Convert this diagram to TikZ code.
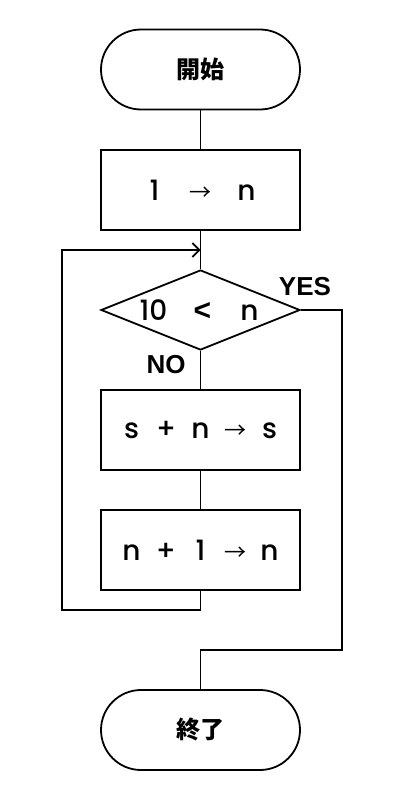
\documentclass[tikz,border=0pt]{standalone}
\usepackage{fontspec}
\setmainfont{Poppins Medium}
\newfontfamily\jp{Noto Sans CJK JP}
\newfontfamily\lab{Liberation Sans}
\usetikzlibrary{arrows.meta,shapes.geometric}
\tikzset{
  base/.style={draw=black, line width=1.8pt, minimum width=199pt, minimum height=80pt, inner sep=0pt, font=\fontsize{28}{30}\selectfont},
  term/.style={base, rounded corners=40pt},
  proc/.style={base},
  dec/.style={base, diamond, aspect=2.5, minimum width=199pt, minimum height=80pt},
  line/.style={line width=1.8pt},
  lbl/.style={font=\lab\bfseries\fontsize{26}{28}\selectfont, inner sep=0pt}
}
\newcommand{\arr}{{\jp\fontsize{22}{24}\selectfont →}}
\newcommand{\cell}[2]{\makebox[#1][c]{#2}}
\begin{document}
\begin{tikzpicture}[x=1pt,y=-1pt]
\useasboundingbox (0,0) rectangle (400,800);
\node[term] (start) at (200.5,69.5) {\jp\bfseries\fontsize{24}{26}\selectfont 開始};
\node[proc] (init) at (200.5,190) {\cell{46pt}{1}\cell{46pt}{\arr}\cell{46pt}{n}};
\node[dec] (cond) at (200.5,310) {};
\node[font=\fontsize{28}{30}\selectfont] at (cond.center) {\cell{50pt}{10}\cell{48pt}{{\lab\bfseries\fontsize{30}{32}\selectfont <}}\cell{46pt}{n}};
\node[proc] (add) at (200.5,430) {\cell{34.5pt}{s}\cell{34.5pt}{+}\cell{34.5pt}{n}\cell{34.5pt}{\arr}\cell{34.5pt}{s}};
\node[proc] (inc) at (200.5,550) {\cell{34.5pt}{n}\cell{34.5pt}{+}\cell{34.5pt}{1}\cell{34.5pt}{\arr}\cell{34.5pt}{n}};
\node[term] (stop) at (200.5,730) {\jp\bfseries\fontsize{24}{26}\selectfont 終了};
\coordinate (join) at (200.5,250);
\coordinate (lb) at (62,610);
\coordinate (rb) at (342,650);
\draw[line] (start) -- (init);
\draw[line] (init) -- (cond.north);
\draw[line] (cond.south) -- (add);
\draw[line] (add) -- (inc);
\draw[line] (inc.south) |- (lb) |- (join);
\draw[line, -{Straight Barb[length=7pt,width=14pt,line width=1.6pt]}] (lb |- join) -- (join);
\draw[line] (cond.east) -| (rb) -| (stop.north);
\node[lbl] at (305,286.5) {YES};
\node[lbl] at (166,365) {NO};
\end{tikzpicture}
\end{document}
